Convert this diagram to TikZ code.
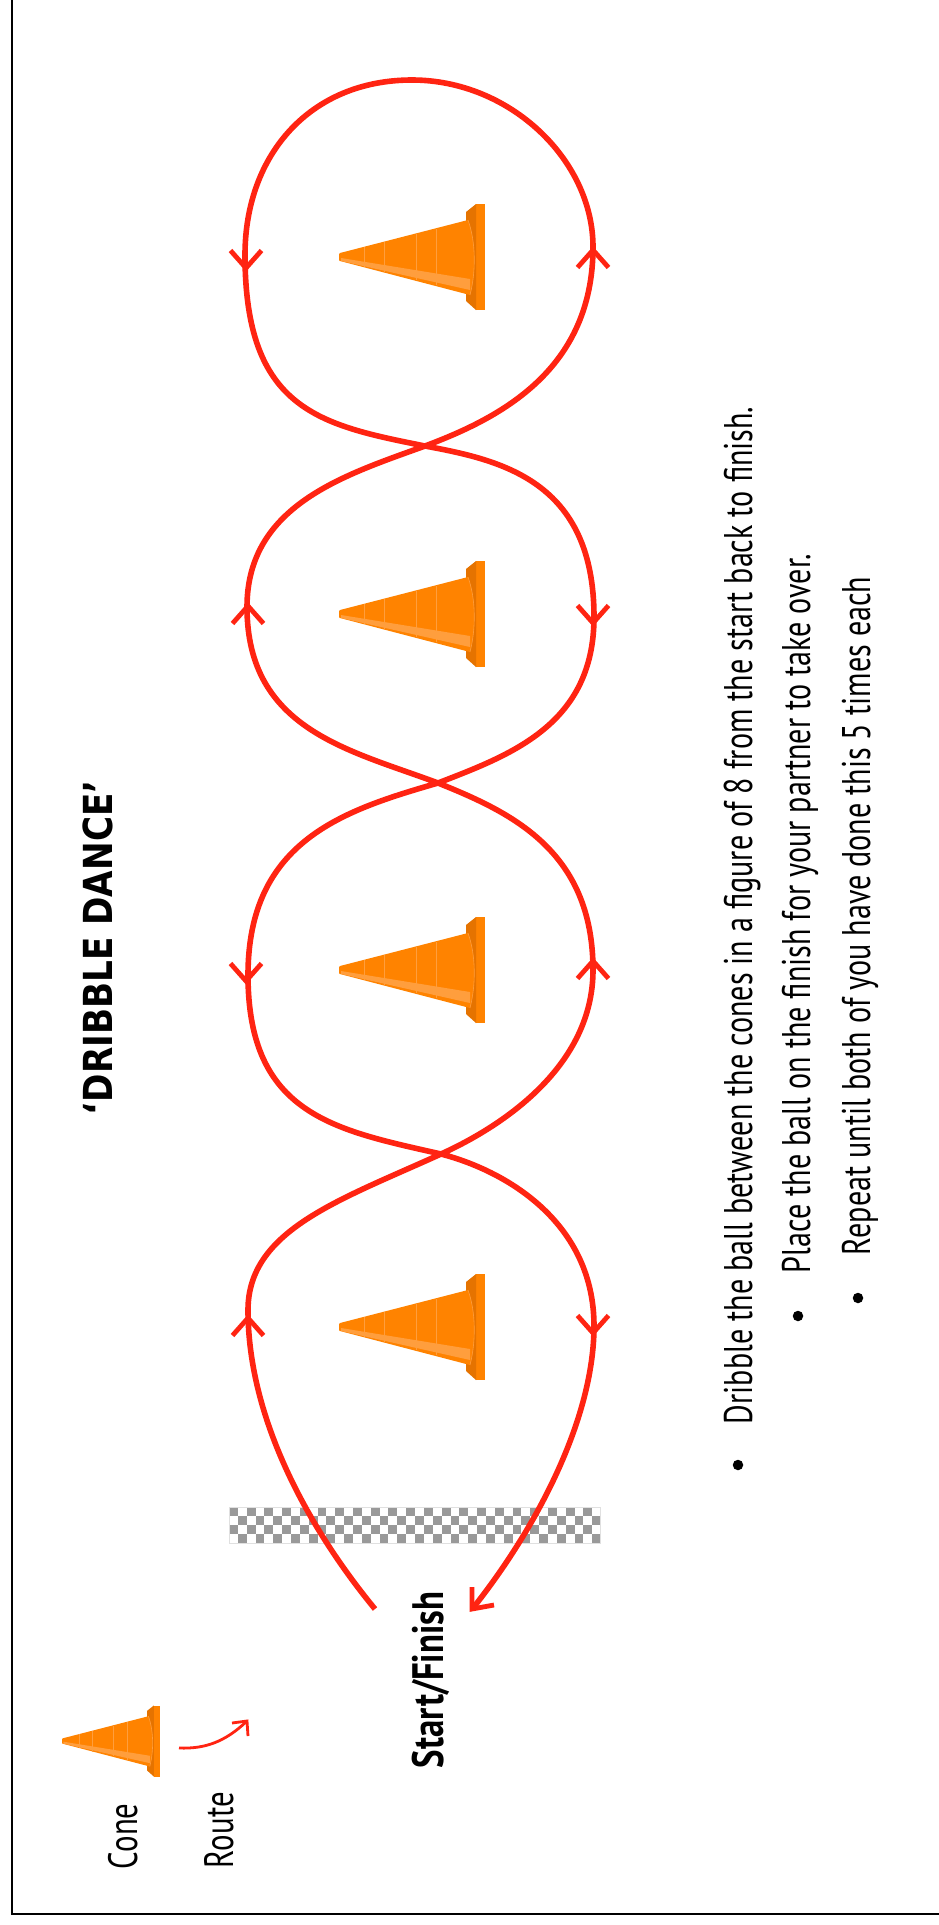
\documentclass[tikz,border=0pt]{standalone}
\usepackage{fontspec}
\setmainfont[FakeStretch=0.752]{PT Sans}
\newfontfamily\boldcond[FakeStretch=0.79]{PT Sans}
\newfontfamily\titlefont[FakeStretch=0.855]{DejaVu Sans}
\definecolor{routered}{HTML}{FF2412}
\definecolor{conebody}{HTML}{FF8300}
\definecolor{conedark}{HTML}{E57300}
\definecolor{conelight}{HTML}{FF9E3D}
\tikzset{
  routeline/.style={draw=routered,line width=5.6pt,line cap=butt,line join=round},
  tickmark/.style={draw=routered,line width=4.8pt},
  plaintext/.style={rotate=90,anchor=base west,inner sep=0pt,outer sep=0pt,text=black},
  bulletdot/.style={fill=black,draw=none,circle,minimum size=10.5pt,inner sep=0pt},
  trafficcone/.pic={
    \fill[conebody] (137,-53) rectangle (146,53);
    \fill[conedark] (127,-45) -- (137,-53) -- (137,53) -- (127,44) -- cycle;
    \fill[conebody] (1,-4) -- (129,-37) .. controls (137,-15) and (137,15) .. (131,38) -- (1,4) -- (0,3) -- (0,-3) -- cycle;
    \draw[conelight,line width=0.6pt] (129,-37) .. controls (137,-15) and (137,15) .. (131,38);
    \fill[conelight] (2,1) -- (131,22) -- (131,33) -- (2,4) -- cycle;
    \foreach \q/\a/\b in {25/-10/10,45/-15.5/16,77/-23/23,97/-28/28}
      \draw[conelight,line width=0.5pt] (\q,\a) -- (\q,\b);
  }
}
\begin{document}
\begin{tikzpicture}[x=1pt,y=-1pt]
\useasboundingbox (0,0) rectangle (939,1925);
\fill[white] (0,0) rectangle (939,1925);
\draw[black,line width=2.6pt] (12,-5) -- (12,1914) -- (945,1914);
% checker strip
\begin{scope}
  \fill[white] (229,1507) rectangle (600,1543);
  \foreach \r in {0,1,2,3}
    \foreach \c in {0,...,41}{
      \pgfmathtruncatemacro{\parity}{mod(\r+\c,2)}
      \ifnum\parity=0
        \fill[black!40] ({229+\c*8.86},{1507+\r*9}) rectangle ({min(600,229+(\c+1)*8.86)},{1507+(\r+1)*9});
      \fi
    }
  \draw[black!12,line width=0.5pt] (229,1507) rectangle (600,1543);
\end{scope}
% cones
\path (339,257) pic {trafficcone};
\path (339,614) pic {trafficcone};
\path (339,970) pic {trafficcone};
\path (339,1327) pic {trafficcone};
\path (62,1741) pic[scale=0.67] {trafficcone};
% route
\draw[routeline] (375,1609)
 .. controls (310,1530) and (248,1420) .. (248,1310)
 .. controls (248,1230) and (340,1200) .. (441,1154)
 .. controls (505,1125) and (593,1065) .. (593,970)
 .. controls (593,850) and (510,812) .. (438,783)
 .. controls (350,750) and (247,730) .. (247,607)
 .. controls (247,505) and (345,475) .. (425,446)
 .. controls (500,418) and (593,370) .. (593,247)
 .. controls (593,160) and (510,80) .. (412,80)
 .. controls (310,80) and (245,155) .. (245,255)
 .. controls (245,410) and (320,425) .. (425,446)
 .. controls (500,460) and (594,480) .. (594,617)
 .. controls (594,725) and (510,755) .. (438,783)
 .. controls (345,810) and (248,840) .. (248,975)
 .. controls (248,1115) and (335,1130) .. (441,1154)
 .. controls (510,1172) and (594,1225) .. (594,1326)
 .. controls (594,1420) and (535,1530) .. (473,1608);
% arrow head
\draw[tickmark] (472,1587) -- (472,1609) -- (494,1605);
% direction ticks
\foreach \xx/\yy in {248/1318,593/961,248/606,593/250}
  \draw[tickmark] (\xx-15.5,\yy+17.5) -- (\xx,\yy) -- (\xx+15.5,\yy+17.5);
\foreach \xx/\yy in {593/1333,246/981,593/623,246/268}
  \draw[tickmark] (\xx-15.5,\yy-17.5) -- (\xx,\yy) -- (\xx+15.5,\yy-17.5);
% legend arrow
\draw[routered,line width=2.8pt] (179,1748) .. controls (205,1749) and (225,1742) .. (247,1721);
\draw[routered,line width=2.8pt] (232,1723) -- (247,1721) -- (248,1736);
% texts
\node[plaintext,font=\fontsize{41}{41}\selectfont] (cone) at (137,1869) {Cone};
\node[plaintext,font=\fontsize{41}{41}\selectfont] (route) at (233,1868) {Route};
\node[plaintext,font=\boldcond\fontsize{44}{44}\selectfont\bfseries] (start) at (443,1768) {Start/Finish};
\node[plaintext,font=\titlefont\fontsize{40}{40}\selectfont\bfseries] (title) at (112,1115) {‘DRIBBLE DANCE’};
\node[plaintext,font=\fontsize{40}{40}\selectfont] (l1) at (752,1424) {Dribble the ball between the cones in a figure of 8 from the start back to finish.};
\node[plaintext,font=\fontsize{40}{40}\selectfont] (l2) at (810,1273) {Place the ball on the finish for your partner to take over.};
\node[plaintext,font=\fontsize{40}{40}\selectfont] (l3) at (870,1255) {Repeat until both of you have done this 5 times each};
\node[bulletdot] (b1) at (738,1465) {};
\node[bulletdot] (b2) at (798,1316) {};
\node[bulletdot] (b3) at (858,1298) {};
\end{tikzpicture}
\end{document}
